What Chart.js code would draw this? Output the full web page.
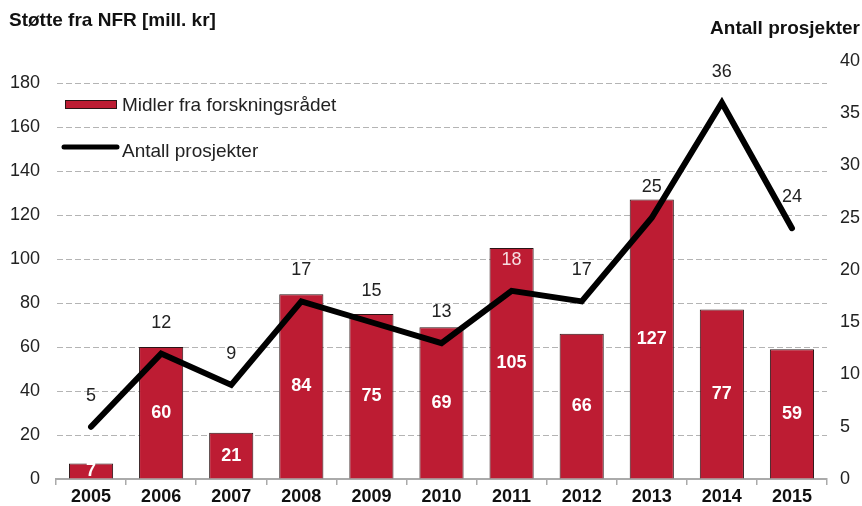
<!DOCTYPE html>
<html>
<head>
<meta charset="utf-8">
<script src="https://cdn.jsdelivr.net/npm/chart.js@4/dist/chart.umd.min.js"></script>
<style>
  html, body { margin: 0; padding: 0; background: #fff; }
  #wrap { width: 862px; height: 506px; position: relative; }
</style>
</head>
<body>
<div id="wrap"><canvas id="chart" width="862" height="506"></canvas></div>
<script>
const years = ['2005', '2006', '2007', '2008', '2009', '2010', '2011', '2012', '2013', '2014', '2015'];
const midler = [7, 60, 21, 84, 75, 69, 105, 66, 127, 77, 59];
const prosjekter = [5, 12, 9, 17, 15, 13, 18, 17, 25, 36, 24];
const leftTicks = [0, 20, 40, 60, 80, 100, 120, 140, 160, 180];
const rightTicks = [0, 5, 10, 15, 20, 25, 30, 35, 40];

const FONT = "'Liberation Sans', Arial, sans-serif";
const RED = '#bd1c33';

// titler, legende og verdietiketter
const extras = {
  id: 'extras',
  afterDatasetsDraw(chart) {
    const ctx = chart.ctx;
    const area = chart.chartArea;
    ctx.save();

    // stolpeetiketter (midt i stolpen)
    ctx.font = 'bold 18px ' + FONT;
    ctx.fillStyle = '#fff';
    ctx.textAlign = 'center';
    ctx.textBaseline = 'middle';
    chart.getDatasetMeta(1).data.forEach((bar, i) => {
      ctx.fillText(String(midler[i]), bar.x, (bar.y + bar.base) / 2);
    });

    // linjeetiketter over punktene
    ctx.font = '18px ' + FONT;
    chart.getDatasetMeta(0).data.forEach((pt, i) => {
      ctx.fillStyle = i === 6 ? '#f6dde0' : '#222';
      ctx.fillText(String(prosjekter[i]), pt.x, pt.y - 31);
    });

    // legende
    const lx = area.left + 9;
    ctx.fillStyle = RED;
    ctx.strokeStyle = '#2a1416';
    ctx.lineWidth = 1;
    ctx.fillRect(lx, 100, 52, 9);
    ctx.strokeRect(lx + 0.5, 100.5, 51, 8);
    ctx.beginPath();
    ctx.lineCap = 'round';
    ctx.lineWidth = 5;
    ctx.strokeStyle = '#000';
    ctx.moveTo(lx - 1, 147);
    ctx.lineTo(lx + 52, 147);
    ctx.stroke();
    ctx.fillStyle = '#222';
    ctx.font = '19px ' + FONT;
    ctx.textAlign = 'left';
    ctx.fillText(chart.data.datasets[1].label, lx + 57, 106);
    ctx.fillText(chart.data.datasets[0].label, lx + 57, 152);

    // aksetitler
    ctx.font = 'bold 19px ' + FONT;
    ctx.fillStyle = '#111';
    ctx.fillText('Støtte fra NFR [mill. kr]', 9, 21);
    ctx.textAlign = 'right';
    ctx.fillText('Antall prosjekter', 860, 29);
    ctx.restore();
  }
};

new Chart(document.getElementById('chart'), {
  data: {
    labels: years,
    datasets: [
      {
        type: 'line',
        label: 'Antall prosjekter',
        data: prosjekter,
        yAxisID: 'y1',
        borderColor: '#000',
        borderWidth: 6,
        borderCapStyle: 'round',
        borderJoinStyle: 'miter',
        pointRadius: 0,
        tension: 0,
        order: 0
      },
      {
        type: 'bar',
        label: 'Midler fra forskningsrådet',
        data: midler,
        yAxisID: 'y',
        backgroundColor: RED,
        borderColor: '#2a1416',
        borderWidth: 1,
        borderSkipped: 'bottom',
        categoryPercentage: 1,
        barPercentage: 0.63,
        order: 1
      }
    ]
  },
  options: {
    responsive: false,
    animation: false,
    layout: { padding: { top: 61, left: 0, right: 0, bottom: 0 } },
    plugins: { legend: { display: false }, tooltip: { enabled: false } },
    scales: {
      x: {
        offset: true,
        grid: { offset: true, drawOnChartArea: false, color: '#aaa', tickLength: 6, lineWidth: 1.5 },
        border: { color: '#aaa', width: 2 },
        ticks: { color: '#111', font: { family: FONT, size: 18, weight: 'bold' }, padding: 1 },
        afterFit(s) { s.height = 506 - 479; }
      },
      y: {
        position: 'left',
        min: 0,
        max: 190,
        afterBuildTicks(s) { s.ticks = leftTicks.map(v => ({ value: v })); },
        grid: { color: '#b4b4b4', lineWidth: 1, drawTicks: false },
        border: { display: true, color: 'rgba(0,0,0,0)', dash: [6, 3] },
        ticks: { color: '#222', font: { family: FONT, size: 18 }, padding: 16 },
        afterFit(s) { s.width = 56; }
      },
      y1: {
        position: 'right',
        min: 0,
        max: 40,
        afterBuildTicks(s) { s.ticks = rightTicks.map(v => ({ value: v })); },
        grid: { display: false, drawTicks: false },
        border: { display: false },
        ticks: { color: '#222', font: { family: FONT, size: 18 }, padding: 13 },
        afterFit(s) { s.width = 862 - 827; }
      }
    }
  },
  plugins: [extras]
});
</script>
</body>
</html>
